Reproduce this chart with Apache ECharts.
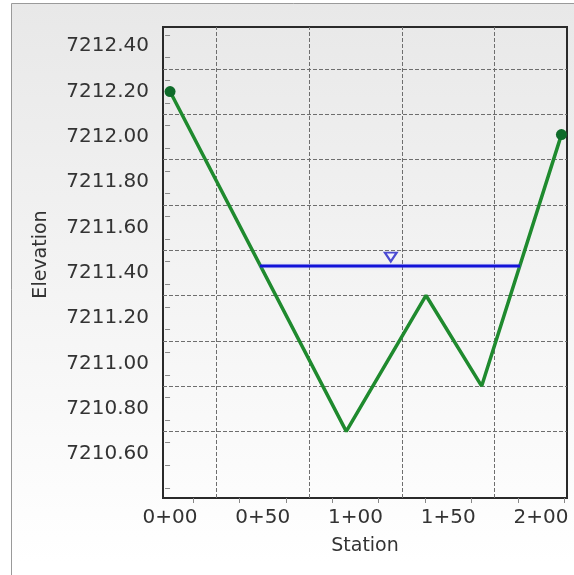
<!DOCTYPE html>
<html>
<head>
<meta charset="utf-8">
<script src="https://cdn.jsdelivr.net/npm/echarts@6/dist/echarts.min.js"></script>
<style>
html,body{margin:0;padding:0;background:#fff;}
#chart{width:574px;height:575px;}
</style>
</head>
<body>
<div id="chart"></div>
<script>
// Data
var stations = [0, 95, 138, 168, 211];
var elevations = [7212.20, 7210.70, 7211.30, 7210.90, 7212.01];
var waterStations = [48.5, 188.7];
var waterElevation = 7211.43;
var waterMarkerStation = 119;
var xLabelValues = [0, 50, 100, 150, 200];
var xTickValues = [12.5, 37.5, 62.5, 87.5, 112.5, 137.5, 162.5, 187.5, 212.5];
var xGridValues = [25, 75, 125, 175];
var yLabelValues = [7210.6, 7210.8, 7211.0, 7211.2, 7211.4, 7211.6, 7211.8, 7212.0, 7212.2, 7212.4];
var yTickValues = [7210.45, 7210.55, 7210.65, 7210.75, 7210.85, 7210.95, 7211.05, 7211.15, 7211.25, 7211.35, 7211.45, 7211.55, 7211.65, 7211.75, 7211.85, 7211.95, 7212.05, 7212.15, 7212.25, 7212.35, 7212.45];
var yGridValues = [7210.7, 7210.9, 7211.1, 7211.3, 7211.5, 7211.7, 7211.9, 7212.1, 7212.3];

var groundData = stations.map(function (s, i) { return [s, elevations[i]]; });
var waterData = waterStations.map(function (s) { return [s, waterElevation]; });

var FONT = 'DejaVu Sans';
var chart = echarts.init(document.getElementById('chart'), null, {renderer: 'canvas'});

function fmtStation(v) {
  var h = Math.floor(v / 100);
  var r = Math.round(v - h * 100);
  return h + '+' + (r < 10 ? '0' + r : r);
}

var gridLineStyle = {color: '#6e6e6e', width: 1, type: [4, 2]};

chart.setOption({
  animation: false,
  backgroundColor: '#ffffff',
  graphic: [{
    type: 'rect', z: -10, silent: true,
    shape: {x: 11.5, y: 3.5, width: 620, height: 620},
    style: {
      fill: new echarts.graphic.LinearGradient(0, 0, 0, 1, [
        {offset: 0, color: '#e8e8e8'},
        {offset: 0.9, color: '#ffffff'}
      ]),
      stroke: '#9a9a9a', lineWidth: 1
    }
  }],
  grid: {
    left: 163, top: 27, right: 7, bottom: 77,
    show: true, borderColor: '#2a2a2a', borderWidth: 2,
    backgroundColor: 'transparent'
  },
  xAxis: {
    type: 'value', min: -3.8, max: 214,
    name: 'Station', nameLocation: 'middle', nameGap: 39,
    nameTextStyle: {fontFamily: FONT, fontSize: 19, color: '#333'},
    axisLine: {show: false},
    axisTick: {show: true, customValues: xTickValues, length: 5, lineStyle: {color: '#888'}},
    axisLabel: {customValues: xLabelValues, formatter: fmtStation, fontFamily: FONT, fontSize: 20, color: '#333', margin: 10},
    splitLine: {show: false}
  },
  yAxis: {
    type: 'value', min: 7210.406, max: 7212.485,
    name: 'Elevation', nameLocation: 'middle', nameGap: 112, nameRotate: 90,
    nameTextStyle: {fontFamily: FONT, fontSize: 19, color: '#333', padding: [0, 0, 0, 16]},
    axisLine: {show: false},
    axisTick: {show: true, customValues: yTickValues, length: 5, lineStyle: {color: '#888'}},
    axisLabel: {customValues: yLabelValues, formatter: function (v) { return v.toFixed(2); }, fontFamily: FONT, fontSize: 20, color: '#333', margin: 14},
    splitLine: {show: false}
  },
  series: [
    {
      type: 'line', name: 'Ground', data: groundData, z: 3,
      lineStyle: {color: '#1f8a2e', width: 3.5},
      itemStyle: {color: '#0f6b2a'},
      symbol: 'circle',
      symbolSize: function (v, p) { return (p.dataIndex === 0 || p.dataIndex === stations.length - 1) ? 11 : 0; },
      showAllSymbol: true,
      markLine: {
        silent: true, symbol: 'none', animation: false, z: 1,
        label: {show: false},
        lineStyle: gridLineStyle,
        data: xGridValues.map(function (v) { return {xAxis: v}; })
          .concat(yGridValues.map(function (v) { return {yAxis: v}; }))
      }
    },
    {
      type: 'line', name: 'Water', data: waterData, z: 4,
      symbol: 'none',
      lineStyle: {color: '#1212d8', width: 3, shadowColor: 'rgba(150,165,255,0.45)', shadowBlur: 3}
    },
    {
      type: 'scatter', name: 'WS', data: [[waterMarkerStation, waterElevation]], z: 5,
      symbol: 'path://M0,0 L12,0 L6,9 Z', symbolSize: [12, 9], symbolOffset: [0, -9],
      itemStyle: {color: 'rgba(240,240,255,0.9)', borderColor: '#2020c8', borderWidth: 2}
    }
  ]
});
</script>
</body>
</html>
